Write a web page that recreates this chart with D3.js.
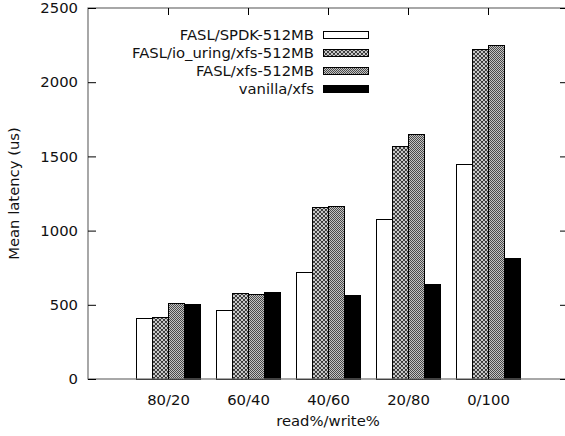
<!DOCTYPE html>
<html>
<head>
<meta charset="utf-8">
<script src="https://cdn.jsdelivr.net/npm/d3@7"></script>
<style>
  body { margin: 0; background: #fff; }
  svg { font-family: "DejaVu Sans", sans-serif; }
</style>
</head>
<body>
<div id="chart"></div>
<script>
// values
const categories = ['80/20', '60/40', '40/60', '20/80', '0/100'];
const seriesNames = ['FASL/SPDK-512MB', 'FASL/io_uring/xfs-512MB', 'FASL/xfs-512MB', 'vanilla/xfs'];
const spdk = [409, 460, 716, 1078, 1444];
const ioUring = [416, 573, 1154, 1570, 2222];
const faslXfs = [510, 568, 1161, 1649, 2246];
const vanilla = [503, 580, 561, 635, 813];
const yTicks = [0, 500, 1000, 1500, 2000, 2500];

const seriesValues = [spdk, ioUring, faslXfs, vanilla];
const fills = ['#fff', 'url(#hatch)', 'url(#checker)', '#000'];

const width = 565, height = 436;
const plotLeft = 88, plotRight = 568, plotTop = 8, plotBottom = 379;
const fontSize = 14.8;

const svg = d3.select('#chart').append('svg')
    .attr('width', width)
    .attr('height', height);

// fill patterns, roughly like gnuplot's
const defs = svg.append('defs');
const hatch = defs.append('pattern')
    .attr('id', 'hatch')
    .attr('patternUnits', 'userSpaceOnUse')
    .attr('width', 4).attr('height', 4);
hatch.append('rect').attr('width', 4).attr('height', 4).attr('fill', '#fff');
hatch.append('path')
    .attr('d', 'M0,0L4,4M4,0L0,4M-1,3L1,5M3,-1L5,1M-1,1L1,-1M3,5L5,3')
    .attr('stroke', '#333')
    .attr('stroke-width', 1.05);

const checker = defs.append('pattern')
    .attr('id', 'checker')
    .attr('patternUnits', 'userSpaceOnUse')
    .attr('width', 2).attr('height', 2);
checker.append('rect').attr('width', 2).attr('height', 2).attr('fill', '#c4c4c4');
checker.append('rect').attr('width', 1).attr('height', 1).attr('fill', '#4a4a4a');
checker.append('rect').attr('x', 1).attr('y', 1).attr('width', 1).attr('height', 1).attr('fill', '#4a4a4a');

// scales
const x = d3.scaleLinear().domain([0, categories.length + 1]).range([plotLeft, plotRight]);
const inner = d3.scaleBand().domain(seriesNames).range([-32, 32]).padding(0);
const y = d3.scaleLinear().domain([0, 2500]).range([plotBottom, plotTop]);

// bars
seriesNames.forEach((name, si) => {
    svg.append('g')
        .selectAll('rect')
        .data(seriesValues[si])
        .enter()
        .append('rect')
        .attr('x', (d, i) => x(i + 1) + inner(name))
        .attr('y', d => y(d))
        .attr('width', inner.bandwidth())
        .attr('height', d => y(0) - y(d))
        .attr('fill', fills[si])
        .attr('stroke', '#000')
        .attr('stroke-width', 1)
        .attr('shape-rendering', 'crispEdges');
});

// border box
svg.append('rect')
    .attr('x', plotLeft).attr('y', plotTop)
    .attr('width', plotRight - plotLeft).attr('height', plotBottom - plotTop)
    .attr('fill', 'none')
    .attr('stroke', '#6e6e6e')
    .attr('stroke-width', 1.2);

// y axis, ticks inward, mirrored on right
svg.append('g')
    .attr('transform', `translate(${plotLeft},0)`)
    .call(d3.axisLeft(y).tickValues(yTicks).tickSize(-8).tickPadding(10).tickFormat(d3.format('d')));
svg.append('g')
    .attr('transform', `translate(${plotRight},0)`)
    .call(d3.axisRight(y).tickValues(yTicks).tickSize(-8).tickFormat(''));

// x axis, ticks inward, mirrored on top
svg.append('g')
    .attr('transform', `translate(0,${plotBottom})`)
    .call(d3.axisBottom(x).tickValues(d3.range(1, categories.length + 1))
        .tickSize(-7).tickPadding(15)
        .tickFormat(d => categories[d - 1]));
svg.append('g')
    .attr('transform', `translate(0,${plotTop})`)
    .call(d3.axisTop(x).tickValues(d3.range(1, categories.length + 1))
        .tickSize(-7).tickFormat(''));

svg.selectAll('.domain').remove();
svg.selectAll('.tick line').attr('stroke', '#000').attr('stroke-width', 1);
svg.selectAll('.tick text')
    .attr('font-family', '"DejaVu Sans", sans-serif')
    .attr('font-size', fontSize)
    .attr('fill', '#111');

// axis titles
svg.append('text')
    .attr('transform', `translate(19,${(plotTop + plotBottom) / 2}) rotate(-90)`)
    .attr('text-anchor', 'middle')
    .attr('font-size', fontSize)
    .attr('fill', '#111')
    .text('Mean latency (us)');

svg.append('text')
    .attr('x', (plotLeft + plotRight) / 2)
    .attr('y', 426)
    .attr('text-anchor', 'middle')
    .attr('font-size', fontSize)
    .attr('fill', '#111')
    .text('read%/write%');

// legend
const legend = svg.append('g');
seriesNames.forEach((name, si) => {
    const cy = 35 + si * 18;
    legend.append('text')
        .attr('x', 314)
        .attr('y', cy)
        .attr('dy', '0.35em')
        .attr('text-anchor', 'end')
        .attr('font-size', fontSize)
        .attr('fill', '#111')
        .text(name);
    legend.append('rect')
        .attr('x', 323)
        .attr('y', cy - 3.5)
        .attr('width', 45)
        .attr('height', 7)
        .attr('fill', fills[si])
        .attr('stroke', '#000')
        .attr('shape-rendering', 'crispEdges');
});
</script>
</body>
</html>
